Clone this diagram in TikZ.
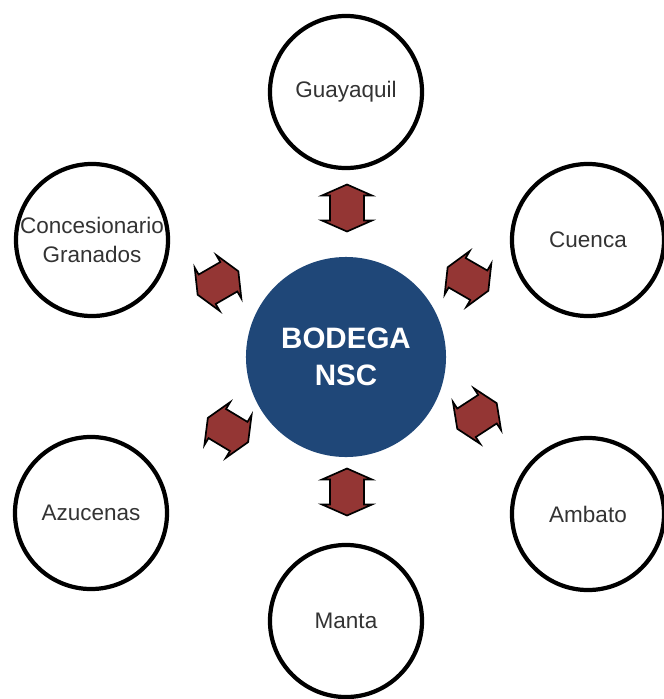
\documentclass[tikz,border=0pt]{standalone}
\usepackage{fontspec}
\setmainfont{Liberation Sans}
\usepackage{tikz}
\usetikzlibrary{shapes,arrows}
\definecolor{bodegablue}{HTML}{1F4778}
\definecolor{linkred}{HTML}{943634}
\definecolor{citytext}{HTML}{333333}
\tikzset{
	city/.style   = {draw, circle, line width=3pt, minimum size=3.8cm,
		inner sep=0pt, align=center, text=citytext, font=\fontsize{16}{20}\selectfont},
	bodega/.style = {circle, fill=bodegablue, minimum size=5cm, inner sep=0pt,
		align=center, text=white, font=\fontsize{21}{26}\selectfont\bfseries},
	link/.pic     = {\draw[fill=linkred, line width=1.2pt]
		(-23.5,0) -- (-12.5,-25) -- (-12.5,-17) -- (12.5,-17) -- (12.5,-25)
		-- (23.5,0) -- (12.5,25) -- (12.5,17) -- (-12.5,17) -- (-12.5,25) -- cycle;}
}

\begin{document}
\begin{tikzpicture}[x=0.025cm, y=-0.025cm]
	\useasboundingbox (0,0) rectangle (664,699);
	\draw
	% Drawing the warehouse and the cities
	node at (346,357) [bodega] (bod) {BODEGA\\NSC}
	node at (346,92)  [city] (gye) {Guayaquil}
	node at (588,240) [city] (cue) {Cuenca}
	node at (92,240)  [city] (con) {Concesionario\\Granados}
	node at (91,513)  [city] (azu) {Azucenas}
	node at (588,514) [city] (amb) {Ambato}
	node at (346,621) [city] (man) {Manta}
	;
	
	% Drawing the two-way links (y is flipped, so angles are clockwise)
	\pic[rotate=90]  (l1) at (347,208) {link};
	\pic[rotate=-30] (l2) at (468,279) {link};
	\pic[rotate=33]  (l3) at (477,416) {link};
	\pic[rotate=90]  (l4) at (347,492) {link};
	\pic[rotate=-31] (l5) at (228,430) {link};
	\pic[rotate=30]  (l6) at (218,283) {link};
\end{tikzpicture}
\end{document}
